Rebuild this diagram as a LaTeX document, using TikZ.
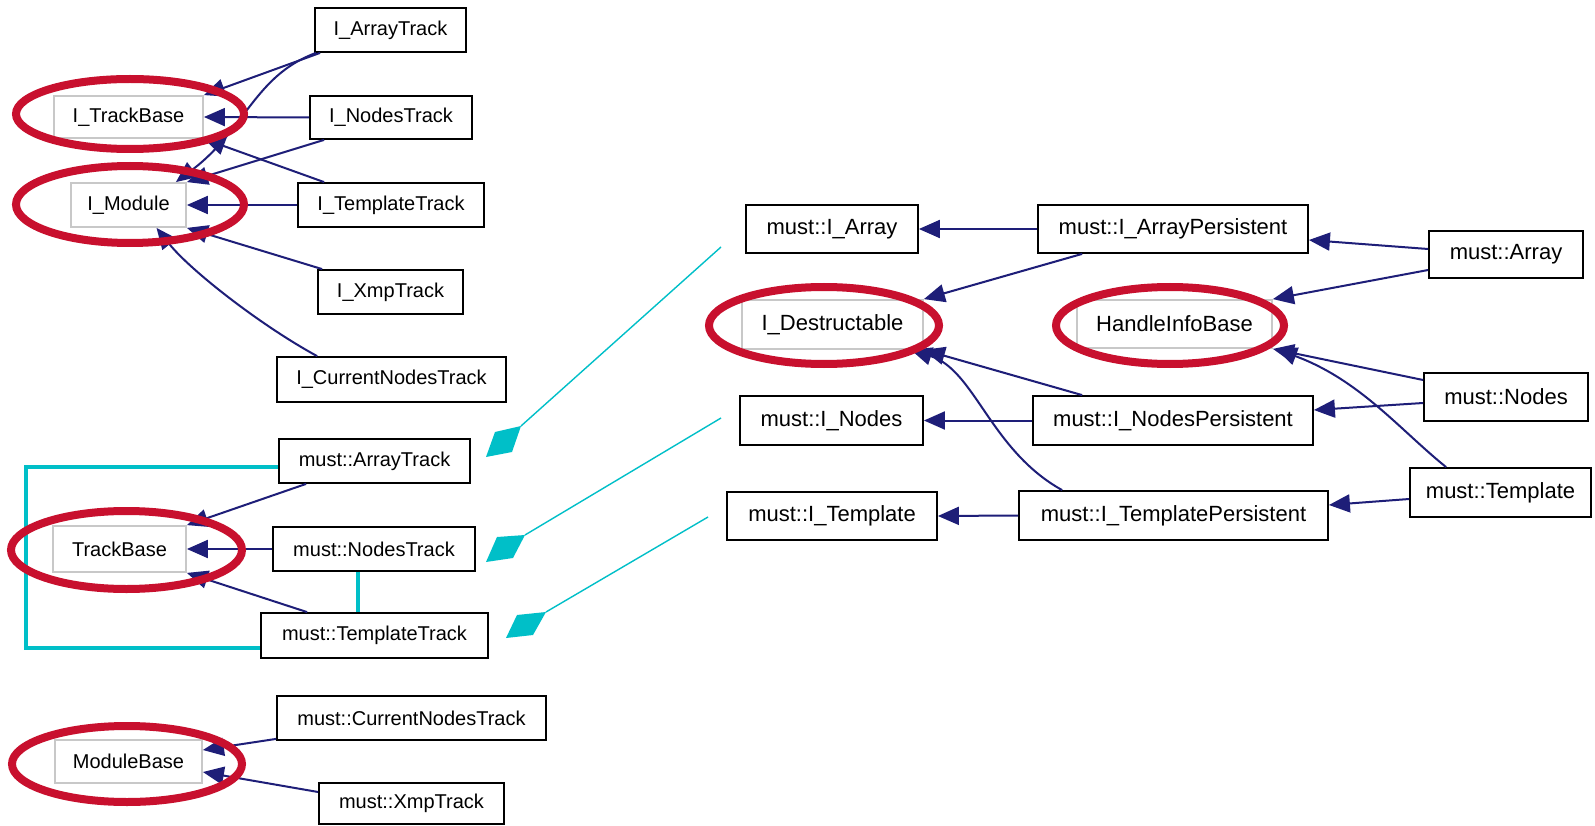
\documentclass[tikz,border=0pt]{standalone}
\usepackage{fontspec}
\setmainfont{Liberation Sans}
\usetikzlibrary{arrows.meta,shapes.geometric}
\definecolor{edgeblue}{HTML}{1E1E78}
\definecolor{hlred}{HTML}{C8102E}
\definecolor{tealc}{HTML}{00BFC8}
\definecolor{basegray}{HTML}{C8C8C8}
\tikzset{
  cls/.style={draw=black, line width=1.8pt, fill=white, inner sep=0pt, font=\fontsize{20}{24}\selectfont},
  rcls/.style={cls, font=\fontsize{22}{26}\selectfont},
  basecls/.style={cls, draw=basegray},
  rbasecls/.style={rcls, draw=basegray},
  inh/.style={draw=edgeblue, line width=2pt, -{Triangle[length=21pt,width=18pt]}},
  hl/.style={draw=hlred, line width=8pt},
  tealbox/.style={draw=tealc, line width=3.5pt},
  tealthin/.style={draw=tealc, line width=1.4pt},
  tealmark/.style={fill=tealc},
}
\begin{document}
\begin{tikzpicture}[x=1pt, y=-1pt]
\fill[white] (0,0) rectangle (1595,826);
\useasboundingbox (0,0) rectangle (1595,826);

% ---------- top-left cluster ----------
\node[cls, minimum width=151pt, minimum height=44pt] (iat) at (390.5,30) {I\_ArrayTrack};
\node[basecls, minimum width=149pt, minimum height=42pt] (itb) at (128.5,117) {I\_TrackBase};
\node[cls, minimum width=162pt, minimum height=43pt] (int) at (391,117.5) {I\_NodesTrack};
\node[basecls, minimum width=115pt, minimum height=44pt] (imod) at (128.5,205) {I\_Module};
\node[cls, minimum width=186pt, minimum height=44pt] (itt) at (391,205) {I\_TemplateTrack};
\node[cls, minimum width=145pt, minimum height=44pt] (ixt) at (390.5,292) {I\_XmpTrack};
\node[cls, minimum width=229pt, minimum height=45pt] (icnt) at (391.5,379.5) {I\_CurrentNodesTrack};

% ---------- middle-left cluster ----------
\node[cls, minimum width=191pt, minimum height=44pt] (atrack) at (374.5,461) {must::ArrayTrack};
\node[basecls, minimum width=133pt, minimum height=46pt] (tb) at (119.5,549) {TrackBase};
\node[cls, minimum width=202pt, minimum height=44pt] (ntrack) at (374,549) {must::NodesTrack};
\node[cls, minimum width=227pt, minimum height=45pt] (ttrack) at (374.5,635.5) {must::TemplateTrack};

% ---------- bottom-left cluster ----------
\node[cls, minimum width=269pt, minimum height=44pt] (cnt) at (411.5,718) {must::CurrentNodesTrack};
\node[basecls, minimum width=147pt, minimum height=43pt] (mb) at (128.5,761.5) {ModuleBase};
\node[cls, minimum width=185pt, minimum height=41pt] (xt) at (411.5,803.5) {must::XmpTrack};

% ---------- right cluster ----------
\node[rcls, minimum width=172pt, minimum height=48pt] (ia) at (832,229) {must::I\_Array};
\node[rcls, minimum width=270pt, minimum height=48pt] (iap) at (1173,229) {must::I\_ArrayPersistent};
\node[rcls, minimum width=154pt, minimum height=47pt] (arr) at (1506,254.5) {must::Array};
\node[rbasecls, minimum width=181pt, minimum height=49pt] (idest) at (832.5,324.5) {I\_Destructable};
\node[rbasecls, minimum width=195pt, minimum height=48pt] (hib) at (1174.5,324) {HandleInfoBase};
\node[rcls, minimum width=183pt, minimum height=49pt] (in) at (831.5,420.5) {must::I\_Nodes};
\node[rcls, minimum width=280pt, minimum height=49pt] (inp) at (1173,420.5) {must::I\_NodesPersistent};
\node[rcls, minimum width=164pt, minimum height=48pt] (nodes) at (1506,397) {must::Nodes};
\node[rcls, minimum width=210pt, minimum height=48pt] (itpl) at (832,516) {must::I\_Template};
\node[rcls, minimum width=309pt, minimum height=49pt] (itp) at (1173.5,515.5) {must::I\_TemplatePersistent};
\node[rcls, minimum width=181pt, minimum height=49pt] (tmpl) at (1500.5,492.5) {must::Template};

% ---------- inheritance edges ----------
\draw[inh] ([xshift=6pt]iat.south west) -- (itb.north east);
\draw[inh] ([xshift=2pt]iat.south west) .. controls (255,75) and (245,130) .. ([xshift=-11pt]imod.north east);
\draw[inh] (int.west) -- (itb.east);
\draw[inh] ([xshift=15pt]int.south west) -- (imod.north east);
\draw[inh] ([xshift=27pt]itt.north west) -- (itb.south east);
\draw[inh] (itt.west) -- (imod.east);
\draw[inh] ([xshift=5pt]ixt.north west) -- (imod.south east);
\draw[inh] ([xshift=41pt]icnt.north west) .. controls (260,325) and (190,270) .. ([xshift=28pt]imod.south);

\draw[inh] ([xshift=28pt]atrack.south west) -- (tb.north east);
\draw[inh] (ntrack.west) -- (tb.east);
\draw[inh] ([xshift=47pt]ttrack.north west) -- (tb.south east);

\draw[inh] ([yshift=2pt]cnt.south west) -- ([yshift=11.5pt]mb.east);
\draw[inh] ([yshift=11.5pt]xt.west) -- ([yshift=-10.5pt]mb.east);

\draw[inh] (iap.west) -- (ia.east);
\draw[inh] ([xshift=45pt]iap.south west) -- (idest.north east);
\draw[inh] (inp.west) -- (in.east);
\draw[inh] ([xshift=50pt]inp.north west) -- (idest.south east);
\draw[inh] ([xshift=44pt]itp.north west) .. controls (990,450) and (975,370) .. ([xshift=-13pt]idest.south east);
\draw[inh] (itp.west) -- (itpl.east);
\draw[inh] ([yshift=5.5pt]arr.west) -- ([yshift=-11pt]iap.east);
\draw[inh] ([yshift=-15.5pt]arr.west) -- (hib.north east);
\draw[inh] ([yshift=17pt]nodes.west) -- (hib.south east);
\draw[inh] ([yshift=-6pt]nodes.west) -- ([yshift=10.5pt]inp.east);
\draw[inh] ([xshift=37pt]tmpl.north west) .. controls (1400,430) and (1360,380) .. ([xshift=3pt]hib.south east);
\draw[inh] ([yshift=-6.5pt]tmpl.west) -- ([yshift=10.5pt]itp.east);

% ---------- teal grouping ----------
\coordinate (cbl) at (26,648);
\draw[tealbox] ([yshift=-6pt]atrack.west) -| (cbl) -- ([yshift=-12.5pt]ttrack.west);
\draw[tealbox] ([xshift=-16pt]ntrack.south) -- ([xshift=-16pt]ntrack.south |- ttrack.north);

\fill[tealmark] (486,457) -- (495,432) -- (521,426) -- (512,452) -- cycle;
\fill[tealmark] (486,562) -- (497,537) -- (525,535) -- (513,558) -- cycle;
\fill[tealmark] (506,638) -- (517,615) -- (546,612) -- (533,635) -- cycle;
\coordinate (t1) at (721,247);
\coordinate (t2) at (721,418);
\coordinate (t3) at (708,517);
\draw[tealthin] (521,426) -- (t1);
\draw[tealthin] (525,535) -- (t2);
\draw[tealthin] (546,612) -- (t3);

% ---------- red highlight ellipses ----------
\draw[hl] (130,114) ellipse [x radius=114, y radius=35];
\draw[hl] (130,204.5) ellipse [x radius=114, y radius=38.5];
\draw[hl] (126.5,550) ellipse [x radius=115.5, y radius=39];
\draw[hl] (127,764) ellipse [x radius=115, y radius=38];
\draw[hl] (824,325.5) ellipse [x radius=115, y radius=38.5];
\draw[hl] (1170,325.5) ellipse [x radius=114, y radius=38.5];
\end{tikzpicture}
\end{document}
